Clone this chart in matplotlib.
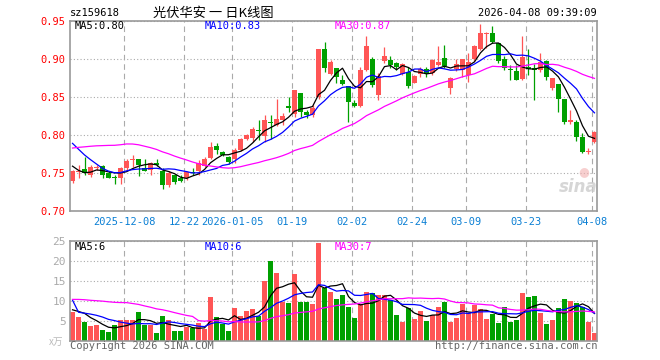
import numpy as np
import pandas as pd
import matplotlib
matplotlib.use('Agg')
import matplotlib.pyplot as plt

plt.rcParams['font.family'] = ['DejaVu Sans Mono', 'Noto Sans CJK SC']

# daily OHLC, 2025-11-25 .. 2026-04-08
opens = [0.7395, 0.751, 0.755, 0.748, 0.7565, 0.759, 0.7496, 0.745, 0.744, 0.756,
         0.7675, 0.768, 0.756, 0.754, 0.763, 0.752, 0.734, 0.747, 0.744, 0.744,
         0.751, 0.752, 0.7596, 0.7693, 0.7855, 0.7772, 0.771, 0.7684, 0.7803, 0.7947,
         0.7965, 0.806, 0.7987, 0.817, 0.8132, 0.8197, 0.8386, 0.8276, 0.8548, 0.8307,
         0.8263, 0.8504, 0.9132, 0.8803, 0.8877, 0.8724, 0.8645, 0.8417, 0.8382, 0.8855,
         0.8996, 0.8526, 0.8978, 0.8987, 0.8943, 0.8803, 0.8833, 0.8689, 0.8803, 0.8864,
         0.8811, 0.8921, 0.9018, 0.8620, 0.8868, 0.8855, 0.879, 0.8996, 0.9127, 0.9330,
         0.9338, 0.9206, 0.8996, 0.8868, 0.8846, 0.8732, 0.890, 0.8886, 0.8855, 0.8978,
         0.8614, 0.8671, 0.8478, 0.8175, 0.8171, 0.7978, 0.7775, 0.7912]
highs = [0.754, 0.760, 0.7715, 0.761, 0.760, 0.760, 0.752, 0.748, 0.758, 0.769,
         0.774, 0.769, 0.768, 0.765, 0.768, 0.756, 0.752, 0.749, 0.747, 0.752,
         0.756, 0.767, 0.771, 0.791, 0.7899, 0.779, 0.772, 0.7825, 0.796, 0.801,
         0.811, 0.8197, 0.8263, 0.8263, 0.848, 0.8285, 0.8504, 0.8592, 0.8548, 0.8329,
         0.8395, 0.9132, 0.922, 0.8987, 0.8877, 0.879, 0.8645, 0.8461, 0.8899, 0.930,
         0.9031, 0.8811, 0.916, 0.904, 0.8965, 0.8952, 0.8899, 0.879, 0.8899, 0.889,
         0.8996, 0.9171, 0.9184, 0.8759, 0.900, 0.8996, 0.9075, 0.9184, 0.946, 0.936,
         0.9434, 0.9215, 0.904, 0.8925, 0.8925, 0.930, 0.9136, 0.893, 0.9075, 0.8987,
         0.8754, 0.8671, 0.8478, 0.8329, 0.8198, 0.8022, 0.7825, 0.8057]
lows = [0.737, 0.743, 0.747, 0.745, 0.754, 0.744, 0.743, 0.735, 0.735, 0.754,
        0.758, 0.746, 0.752, 0.748, 0.759, 0.729, 0.732, 0.736, 0.738, 0.741,
        0.747, 0.748, 0.758, 0.768, 0.775, 0.772, 0.762, 0.763, 0.779, 0.793,
        0.791, 0.7934, 0.7912, 0.7947, 0.812, 0.8132, 0.8307, 0.8241, 0.8241, 0.822,
        0.824, 0.848, 0.8833, 0.879, 0.868, 0.8658, 0.8175, 0.8373, 0.8373, 0.8846,
        0.8636, 0.846, 0.8943, 0.8877, 0.8855, 0.879, 0.8614, 0.868, 0.8768, 0.8763,
        0.879, 0.8908, 0.8877, 0.854, 0.884, 0.8768, 0.870, 0.897, 0.912, 0.914,
        0.9206, 0.8943, 0.8855, 0.872, 0.872, 0.8724, 0.879, 0.846, 0.8833, 0.8724,
        0.8592, 0.8307, 0.8145, 0.8145, 0.7925, 0.7768, 0.7755, 0.7899]
closes = [0.752, 0.7525, 0.750, 0.758, 0.7575, 0.748, 0.744, 0.7435, 0.757, 0.766,
          0.768, 0.760, 0.753, 0.763, 0.760, 0.734, 0.750, 0.7386, 0.740, 0.7518,
          0.750, 0.763, 0.7684, 0.7842, 0.780, 0.7737, 0.764, 0.7803, 0.7947, 0.800,
          0.8079, 0.805, 0.8197, 0.8155, 0.821, 0.8254, 0.835, 0.8592, 0.8307, 0.8263,
          0.836, 0.9132, 0.8877, 0.8956, 0.8759, 0.8671, 0.8439, 0.8382, 0.8855, 0.9171,
          0.8658, 0.8776, 0.904, 0.8921, 0.8899, 0.8934, 0.8645, 0.8776, 0.8864, 0.8803,
          0.8987, 0.8965, 0.8908, 0.8746, 0.8935, 0.8996, 0.8965, 0.9171, 0.9338, 0.9338,
          0.9228, 0.8978, 0.8877, 0.8860, 0.8724, 0.9031, 0.8864, 0.8855, 0.8965, 0.8768,
          0.8754, 0.8478, 0.8175, 0.820, 0.7978, 0.778, 0.7785, 0.8035]
# volume, 万手
volumes = [7.25, 5.9, 4.7, 3.7, 3.9, 2.7, 2.2, 3.9, 5.2, 5.2,
           5.2, 7.2, 3.9, 3.9, 1.9, 6.2, 5.2, 2.4, 2.4, 3.4,
           3.3, 4.4, 2.9, 10.9, 5.9, 4.2, 2.4, 8.2, 6.2, 7.4,
           7.9, 6.2, 14.9, 20.0, 16.9, 9.8, 9.4, 16.7, 9.7, 9.7,
           9.2, 24.4, 13.2, 12.2, 10.4, 11.4, 8.4, 5.7, 9.2, 12.2,
           11.9, 11.4, 11.4, 10.2, 6.4, 4.7, 8.2, 5.4, 7.4, 5.0,
           6.4, 8.4, 9.7, 4.7, 5.7, 9.2, 6.9, 8.9, 7.9, 5.4,
           6.7, 4.4, 8.4, 4.7, 5.2, 11.9, 10.9, 11.2, 6.9, 4.2,
           5.2, 8.2, 10.4, 10.0, 9.4, 8.4, 4.7, 1.9]

# the 29 sessions before the window (only feed the moving averages)
prior_closes = [0.725, 0.73, 0.735, 0.74, 0.74, 0.735, 0.74, 0.735, 0.735,
                0.77, 0.79, 0.81, 0.82, 0.83, 0.83, 0.825, 0.83, 0.82, 0.825, 0.83,
                0.83, 0.825, 0.82, 0.815, 0.805,
                0.78, 0.765, 0.755, 0.743]
prior_volumes = [6, 7, 8, 7, 6, 7, 8, 7, 5.4,
                 12, 14, 15, 14, 14, 13, 15, 14, 13, 13.7,
                 10.9, 36,
                 7, 6, 7, 7,
                 8, 7, 9, 7.75]

holidays = ['2026-01-01', '2026-01-02', '2026-02-16', '2026-02-17', '2026-02-18',
            '2026-02-19', '2026-02-20', '2026-02-23', '2026-04-06']
tick_dates = ['2025-12-08', '2025-12-22', '2026-01-05', '2026-01-19', '2026-02-02',
              '2026-02-24', '2026-03-09', '2026-03-23', '2026-04-08']
tick_labels = ['2025-12-08', '12-22', '2026-01-05', '01-19', '02-02',
               '02-24', '03-09', '03-23', '04-08']

dates = pd.bdate_range('2025-11-25', '2026-04-08', freq='C', holidays=holidays)

RED = '#ff5555'
GREEN = '#00a000'
FRAME = '#999999'
GRID = '#aaaaaa'
W, H = 660, 360


def ma(prior, vals, n):
    s = pd.Series(list(prior) + list(vals)).rolling(n).mean().values
    return s[len(prior):]


def px(x, y):
    return x / W, 1 - y / H


o = np.array(opens); c = np.array(closes)
hi = np.array(highs); lo = np.array(lows)
vol = np.array(volumes)
x = np.arange(len(c))
up = c >= o
cols = np.where(up, RED, GREEN)
tick_x = [dates.get_loc(pd.Timestamp(d)) - 0.4 for d in tick_dates]

fig = plt.figure(figsize=(6.6, 3.6), dpi=100)
ax = fig.add_axes([70 / W, 1 - 211 / H, 527 / W, 190 / H])
axv = fig.add_axes([70 / W, 1 - 341 / H, 527 / W, 100 / H])

for a in (ax, axv):
    a.set_xlim(-0.42, len(c) - 0.58)
    for sp in a.spines.values():
        sp.set_color(FRAME)
        sp.set_linewidth(1.2)
    a.set_xticks(tick_x)
    a.tick_params(length=0)
    a.grid(axis='x', color=GRID, linestyle=(0, (5, 3.5)), linewidth=0.8)
    a.grid(axis='y', color=GRID, linestyle=(0, (1, 2)), linewidth=0.8)
    a.set_axisbelow(True)

# candles
ax.vlines(x, lo, hi, colors=cols, linewidth=0.9)
body = np.maximum(np.abs(c - o), 0.0011)
ax.bar(x, body, bottom=np.minimum(o, c), width=0.82, color=cols, linewidth=0)
ax.plot(x, ma(prior_closes, c, 5), color='black', lw=0.9)
ax.plot(x, ma(prior_closes, c, 10), color='#0000ff', lw=0.9)
ax.plot(x, ma(prior_closes, c, 30), color='#ff00ff', lw=0.9)
ax.set_ylim(0.70, 0.95)
ax.set_yticks([0.70, 0.75, 0.80, 0.85, 0.90, 0.95])
ax.set_yticklabels(['%.2f' % v for v in [0.70, 0.75, 0.80, 0.85, 0.90, 0.95]],
                   color='red', fontsize=7.5)
ax.set_xticklabels(tick_labels, color='#0a7fd4', fontsize=7.5)
ax.tick_params(axis='y', pad=3)
ax.tick_params(axis='x', pad=4)

# volume
axv.bar(x, vol, width=0.82, color=cols, linewidth=0)
axv.plot(x, ma(prior_volumes, vol, 5), color='black', lw=0.9)
axv.plot(x, ma(prior_volumes, vol, 10), color='#0000ff', lw=0.9)
axv.plot(x, ma(prior_volumes, vol, 30), color='#ff00ff', lw=0.9)
axv.set_ylim(0, 25)
axv.set_yticks([5, 10, 15, 20, 25])
axv.set_yticklabels(['5', '10', '15', '20', '25'], color='#aaaaaa', fontsize=8)
axv.set_xticklabels([])
axv.tick_params(axis='y', pad=3)

# labels
fs = 7.5
fig.text(*px(70, 13), 'sz159618', fontsize=fs, va='center', ha='left')
fig.text(*px(213, 13), '光伏华安 一 日K线图', fontsize=9.5, va='center', ha='center',
         family=['Noto Sans CJK SC', 'DejaVu Sans'])
fig.text(*px(597, 13), '2026-04-08 09:39:09', fontsize=fs, va='center', ha='right')

fig.text(*px(75, 26), 'MA5:%.2f' % ma(prior_closes, c, 5)[-1], fontsize=fs, va='center')
fig.text(*px(205, 26), 'MA10:%.2f' % ma(prior_closes, c, 10)[-1], fontsize=fs,
         va='center', color='#0000ff')
fig.text(*px(335, 26), 'MA30:%.2f' % ma(prior_closes, c, 30)[-1], fontsize=fs,
         va='center', color='#ff00ff')
fig.text(*px(75, 247), 'MA5:%d' % int(ma(prior_volumes, vol, 5)[-1]), fontsize=fs, va='center')
fig.text(*px(205, 247), 'MA10:%d' % int(ma(prior_volumes, vol, 10)[-1]), fontsize=fs,
         va='center', color='#0000ff')
fig.text(*px(335, 247), 'MA30:%d' % int(ma(prior_volumes, vol, 30)[-1]), fontsize=fs,
         va='center', color='#ff00ff')

fig.text(*px(56, 342), 'x万', fontsize=7, va='center', ha='center', color='#bbbbbb',
         family=['Noto Sans CJK SC', 'DejaVu Sans'])
fig.text(*px(70, 346), 'Copyright 2026 SINA.COM', fontsize=fs, va='center', color='#666666')
fig.text(*px(597, 346), 'http://finance.sina.com.cn', fontsize=fs, va='center', ha='right',
         color='#666666')

# faint sina watermark
fig.text(*px(578, 187), 'sina', fontsize=12, style='italic', weight='bold', va='center',
         ha='center', color='#cccccc', alpha=0.8, family='DejaVu Sans')
fig.text(*px(584, 172), '●', fontsize=9, va='center', ha='center', color='#f3b0b0', alpha=0.6,
         family='DejaVu Sans')

fig.savefig('out.png', dpi=100, facecolor='white')
